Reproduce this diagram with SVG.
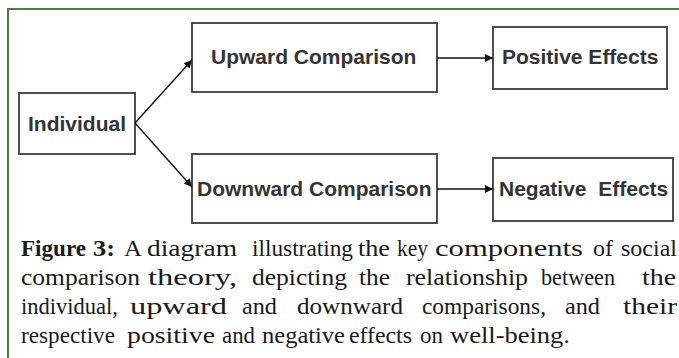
<svg xmlns="http://www.w3.org/2000/svg" width="679" height="358" viewBox="0 0 679 358">
<style>
.box{fill:#fff;stroke:#3c3c3c;stroke-width:1.8}
.lbl{font-family:"Liberation Sans",Arial,sans-serif;font-weight:bold;font-size:21px;fill:#333;white-space:pre}
.cap text{font-family:"Liberation Serif","Times New Roman",serif;font-size:23px;fill:#1a1a1a}
.cap .b{font-weight:bold}
.con{stroke:#111;stroke-width:1.4;fill:none;marker-end:url(#ah)}
</style>
<defs>
<marker id="ah" viewBox="0 0 10 10" refX="10" refY="5" markerWidth="8" markerHeight="8" markerUnits="userSpaceOnUse" orient="auto">
<path d="M0,0 L10,5 L0,10 z" fill="#111"/>
</marker>
</defs>
<rect x="0" y="0" width="679" height="358" fill="#fff"/>
<rect x="8" y="9" width="700" height="400" fill="none" stroke="#4e7d3e" stroke-width="2"/>
<g id="individual">
<rect class="box" x="19" y="93" width="116" height="61"/>
<text class="lbl" x="28" y="131">Individual</text>
</g>
<g id="upward">
<rect class="box" x="192" y="23" width="245" height="69"/>
<text class="lbl" x="211" y="63.5">Upward Comparison</text>
</g>
<g id="positive">
<rect class="box" x="493" y="27" width="174" height="62"/>
<text class="lbl" x="502" y="64">Positive Effects</text>
</g>
<g id="downward">
<rect class="box" x="192" y="154" width="245" height="69"/>
<text class="lbl" x="197" y="196">Downward Comparison</text>
</g>
<g id="negative">
<rect class="box" x="493" y="158" width="180" height="63"/>
<text class="lbl" x="499" y="196" xml:space="preserve">Negative  Effects</text>
</g>
<g id="connectors">
<line class="con" x1="135" y1="123" x2="192" y2="60"/>
<line class="con" x1="135" y1="123" x2="192" y2="187"/>
<line class="con" x1="437" y1="58" x2="493" y2="58"/>
<line class="con" x1="437" y1="189" x2="493" y2="189"/>
</g>
<g id="caption" class="cap">
<text class="b" x="21" y="256" textLength="65" lengthAdjust="spacingAndGlyphs">Figure</text>
<text class="b" x="93" y="256" textLength="22" lengthAdjust="spacingAndGlyphs">3:</text>
<text x="124" y="256" textLength="18" lengthAdjust="spacingAndGlyphs">A</text>
<text x="147" y="256" textLength="90" lengthAdjust="spacingAndGlyphs">diagram</text>
<text x="252" y="256" textLength="101" lengthAdjust="spacingAndGlyphs">illustrating</text>
<text x="358" y="256" textLength="32" lengthAdjust="spacingAndGlyphs">the</text>
<text x="397" y="256" textLength="31" lengthAdjust="spacingAndGlyphs">key</text>
<text x="435" y="256" textLength="148" lengthAdjust="spacingAndGlyphs">components</text>
<text x="593" y="256" textLength="20" lengthAdjust="spacingAndGlyphs">of</text>
<text x="621" y="256" textLength="56" lengthAdjust="spacingAndGlyphs">social</text>

<text x="21" y="285" textLength="119" lengthAdjust="spacingAndGlyphs">comparison</text>
<text x="148" y="285" textLength="89" lengthAdjust="spacingAndGlyphs">theory,</text>
<text x="252" y="285" textLength="95" lengthAdjust="spacingAndGlyphs">depicting</text>
<text x="359" y="285" textLength="31" lengthAdjust="spacingAndGlyphs">the</text>
<text x="406" y="285" textLength="122" lengthAdjust="spacingAndGlyphs">relationship</text>
<text x="541" y="285" textLength="74" lengthAdjust="spacingAndGlyphs">between</text>
<text x="642" y="285" textLength="34" lengthAdjust="spacingAndGlyphs">the</text>

<text x="21" y="314" textLength="97" lengthAdjust="spacingAndGlyphs">individual,</text>
<text x="130" y="314" textLength="97" lengthAdjust="spacingAndGlyphs">upward</text>
<text x="242" y="314" textLength="35" lengthAdjust="spacingAndGlyphs">and</text>
<text x="297" y="314" textLength="106" lengthAdjust="spacingAndGlyphs">downward</text>
<text x="422" y="314" textLength="124" lengthAdjust="spacingAndGlyphs">comparisons,</text>
<text x="565" y="314" textLength="35" lengthAdjust="spacingAndGlyphs">and</text>
<text x="623" y="314" textLength="54" lengthAdjust="spacingAndGlyphs">their</text>

<text x="21" y="343" textLength="94" lengthAdjust="spacingAndGlyphs">respective</text>
<text x="127" y="343" textLength="88" lengthAdjust="spacingAndGlyphs">positive</text>
<text x="222" y="343" textLength="33" lengthAdjust="spacingAndGlyphs">and</text>
<text x="262" y="343" textLength="83" lengthAdjust="spacingAndGlyphs">negative</text>
<text x="349" y="343" textLength="63" lengthAdjust="spacingAndGlyphs">effects</text>
<text x="420" y="343" textLength="23" lengthAdjust="spacingAndGlyphs">on</text>
<text x="450" y="343" textLength="120" lengthAdjust="spacingAndGlyphs">well-being.</text>
</g>
</svg>
